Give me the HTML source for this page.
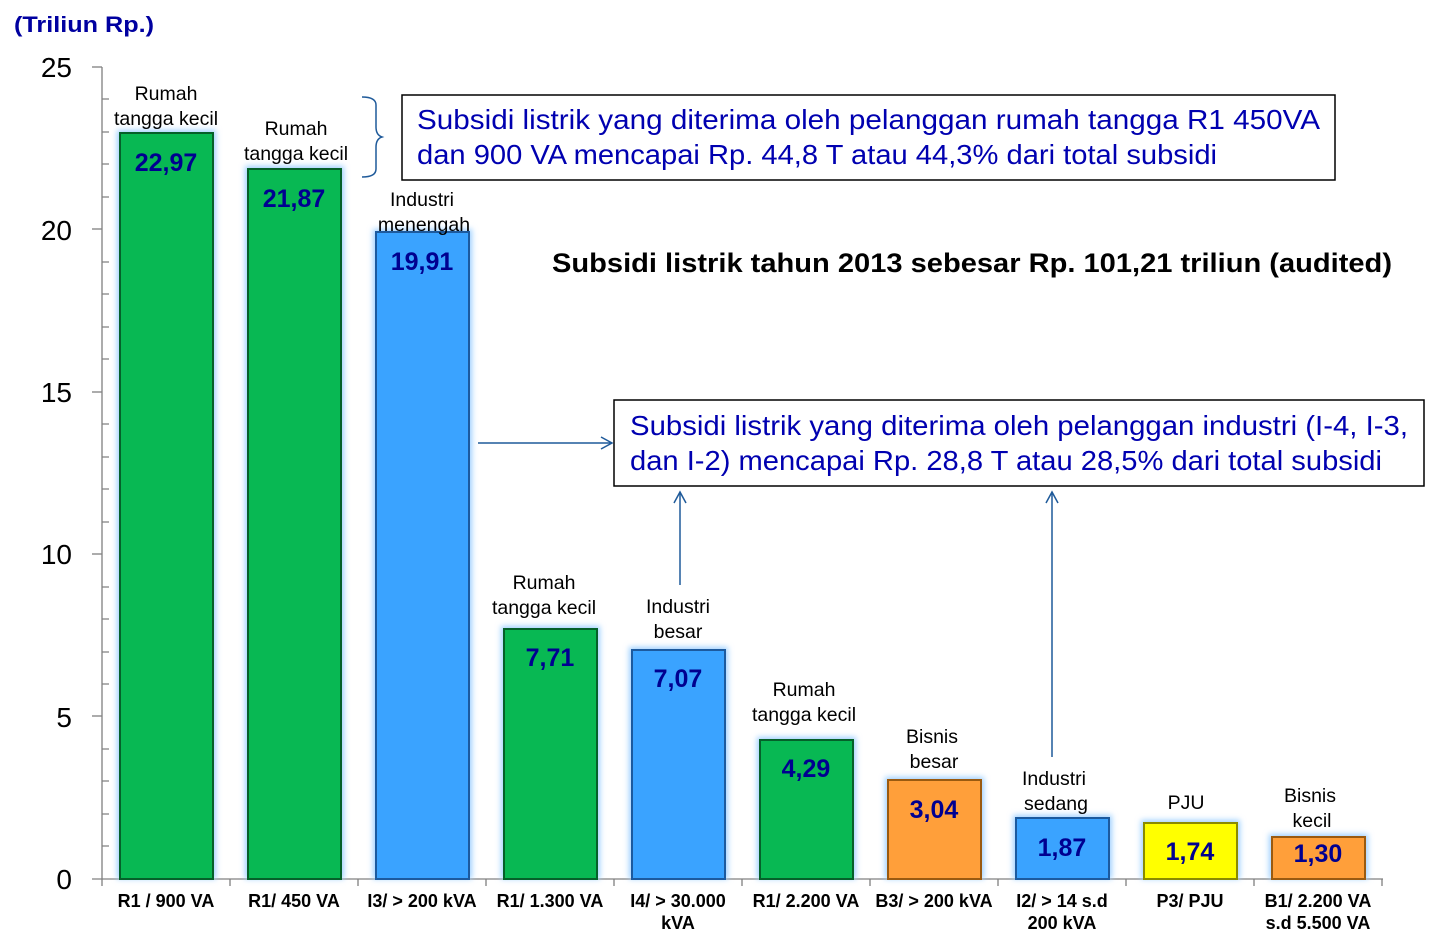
<!DOCTYPE html>
<html><head><meta charset="utf-8"><style>
body{margin:0;background:#fff;}
svg{display:block;font-family:"Liberation Sans",sans-serif;}
</style></head><body>
<svg width="1437" height="946" viewBox="0 0 1437 946" xmlns="http://www.w3.org/2000/svg">
<defs>
<filter id="glow" x="-20%" y="-20%" width="140%" height="140%"><feGaussianBlur stdDeviation="3"/></filter>
<marker id="ar" markerWidth="14" markerHeight="14" refX="12" refY="7" orient="auto" markerUnits="userSpaceOnUse"><path d="M1,1 L12,7 L1,13" fill="none" stroke="#1f5a9a" stroke-width="1.5"/></marker>
</defs>
<text x="14" y="32" font-size="22" font-weight="bold" fill="#0000a0" textLength="140" lengthAdjust="spacingAndGlyphs">(Triliun Rp.)</text>
<g font-size="28" fill="#000" text-anchor="end">
<text x="72" y="77">25</text><text x="72" y="240">20</text><text x="72" y="402">15</text><text x="72" y="564">10</text><text x="72" y="727">5</text><text x="72" y="889">0</text>
</g>
<g stroke="#808080" stroke-width="1.3">
<line x1="102" y1="67" x2="102" y2="879"/>
<line x1="92" y1="879" x2="1383" y2="879"/>
<line x1="92" y1="67" x2="102" y2="67"/><line x1="92" y1="229" x2="102" y2="229"/><line x1="92" y1="392" x2="102" y2="392"/><line x1="92" y1="554" x2="102" y2="554"/><line x1="92" y1="716" x2="102" y2="716"/>
<path d="M102,99h7M102,132h7M102,164h7M102,197h7M102,262h7M102,294h7M102,327h7M102,359h7M102,424h7M102,457h7M102,489h7M102,522h7M102,587h7M102,619h7M102,652h7M102,684h7M102,749h7M102,781h7M102,814h7M102,846h7"/>
<path d="M230,879v7M358,879v7M486,879v7M614,879v7M742,879v7M870,879v7M998,879v7M1126,879v7M1254,879v7M1382,879v7M102,879v7"/>
</g>
<g>
<rect x="117" y="130" width="99" height="749" fill="#9fd0ff" filter="url(#glow)"/>
<rect x="120" y="133" width="93" height="746" fill="#08b853" stroke="#05602a" stroke-width="2"/>
<rect x="245" y="166" width="99" height="713" fill="#9fd0ff" filter="url(#glow)"/>
<rect x="248" y="169" width="93" height="710" fill="#08b853" stroke="#05602a" stroke-width="2"/>
<rect x="373" y="229" width="99" height="650" fill="#9fd0ff" filter="url(#glow)"/>
<rect x="376" y="232" width="93" height="647" fill="#3aa3ff" stroke="#1c5a9e" stroke-width="2"/>
<rect x="501" y="626" width="99" height="253" fill="#9fd0ff" filter="url(#glow)"/>
<rect x="504" y="629" width="93" height="250" fill="#08b853" stroke="#05602a" stroke-width="2"/>
<rect x="629" y="647" width="99" height="232" fill="#9fd0ff" filter="url(#glow)"/>
<rect x="632" y="650" width="93" height="229" fill="#3aa3ff" stroke="#1c5a9e" stroke-width="2"/>
<rect x="757" y="737" width="99" height="142" fill="#9fd0ff" filter="url(#glow)"/>
<rect x="760" y="740" width="93" height="139" fill="#08b853" stroke="#05602a" stroke-width="2"/>
<rect x="885" y="777" width="99" height="102" fill="#9fd0ff" filter="url(#glow)"/>
<rect x="888" y="780" width="93" height="99" fill="#ff9f3a" stroke="#9a5a10" stroke-width="2"/>
<rect x="1013" y="815" width="99" height="64" fill="#9fd0ff" filter="url(#glow)"/>
<rect x="1016" y="818" width="93" height="61" fill="#3aa3ff" stroke="#1c5a9e" stroke-width="2"/>
<rect x="1141" y="820" width="99" height="59" fill="#9fd0ff" filter="url(#glow)"/>
<rect x="1144" y="823" width="93" height="56" fill="#ffff00" stroke="#8a8a00" stroke-width="2"/>
<rect x="1269" y="834" width="99" height="45" fill="#9fd0ff" filter="url(#glow)"/>
<rect x="1272" y="837" width="93" height="42" fill="#ff9f3a" stroke="#9a5a10" stroke-width="2"/>
</g>
<g font-size="25" font-weight="bold" fill="#000090" text-anchor="middle">
<text x="166" y="171">22,97</text><text x="294" y="207">21,87</text><text x="422" y="270">19,91</text><text x="550" y="666">7,71</text><text x="678" y="687">7,07</text><text x="806" y="777">4,29</text><text x="934" y="818">3,04</text><text x="1062" y="856">1,87</text><text x="1190" y="860">1,74</text><text x="1318" y="862">1,30</text>
</g>
<g font-size="19.5" fill="#000" text-anchor="middle">
<text x="166" y="100">Rumah</text><text x="166" y="125">tangga kecil</text>
<text x="296" y="135">Rumah</text><text x="296" y="160">tangga kecil</text>
<text x="422" y="206">Industri</text><text x="424" y="231">menengah</text>
<text x="544" y="589">Rumah</text><text x="544" y="614">tangga kecil</text>
<text x="678" y="613">Industri</text><text x="678" y="638">besar</text>
<text x="804" y="696">Rumah</text><text x="804" y="721">tangga kecil</text>
<text x="932" y="743">Bisnis</text><text x="934" y="768">besar</text>
<text x="1054" y="785">Industri</text><text x="1056" y="810">sedang</text>
<text x="1186" y="809">PJU</text>
<text x="1310" y="802">Bisnis</text><text x="1312" y="827">kecil</text>
</g>
<g font-size="18" font-weight="bold" fill="#000" text-anchor="middle">
<text x="166" y="907">R1 / 900 VA</text><text x="294" y="907">R1/ 450 VA</text><text x="422" y="907">I3/ &gt; 200 kVA</text><text x="550" y="907">R1/ 1.300 VA</text>
<text x="678" y="907">I4/ &gt; 30.000</text><text x="678" y="929">kVA</text>
<text x="806" y="907">R1/ 2.200 VA</text><text x="934" y="907">B3/ &gt; 200 kVA</text>
<text x="1062" y="907">I2/ &gt; 14 s.d</text><text x="1062" y="929">200 kVA</text>
<text x="1190" y="907">P3/ PJU</text>
<text x="1318" y="907">B1/ 2.200 VA</text><text x="1318" y="929">s.d 5.500 VA</text>
</g>
<path d="M362,97 q14,0 14,8 v22 q0,8 6,10 q-6,2 -6,10 v22 q0,8 -14,8" fill="none" stroke="#1f5a9a" stroke-width="1.5"/>
<rect x="402" y="95" width="933" height="85" fill="#fff" stroke="#000" stroke-width="1.5"/>
<text x="417" y="129" font-size="28" fill="#0000b0" textLength="903" lengthAdjust="spacingAndGlyphs">Subsidi listrik yang diterima oleh pelanggan rumah tangga R1 450VA</text>
<text x="417" y="164" font-size="28" fill="#0000b0" textLength="800" lengthAdjust="spacingAndGlyphs">dan 900 VA mencapai Rp. 44,8 T atau 44,3% dari total subsidi</text>
<text x="552" y="272" font-size="27" font-weight="bold" fill="#000" textLength="840" lengthAdjust="spacingAndGlyphs">Subsidi listrik tahun 2013 sebesar Rp. 101,21 triliun (audited)</text>
<rect x="614" y="400" width="810" height="86" fill="#fff" stroke="#000" stroke-width="1.5"/>
<text x="630" y="435" font-size="28" fill="#0000b0" textLength="778" lengthAdjust="spacingAndGlyphs">Subsidi listrik yang diterima oleh pelanggan industri (I-4, I-3,</text>
<text x="630" y="470" font-size="28" fill="#0000b0" textLength="752" lengthAdjust="spacingAndGlyphs">dan I-2) mencapai Rp. 28,8 T atau 28,5% dari total subsidi</text>
<g stroke="#1f5a9a" stroke-width="1.5" fill="none">
<line x1="478" y1="443" x2="612" y2="443" marker-end="url(#ar)"/>
<line x1="680" y1="585" x2="680" y2="492" marker-end="url(#ar)"/>
<line x1="1052" y1="757" x2="1052" y2="492" marker-end="url(#ar)"/>
</g>
</svg>
</body></html>
